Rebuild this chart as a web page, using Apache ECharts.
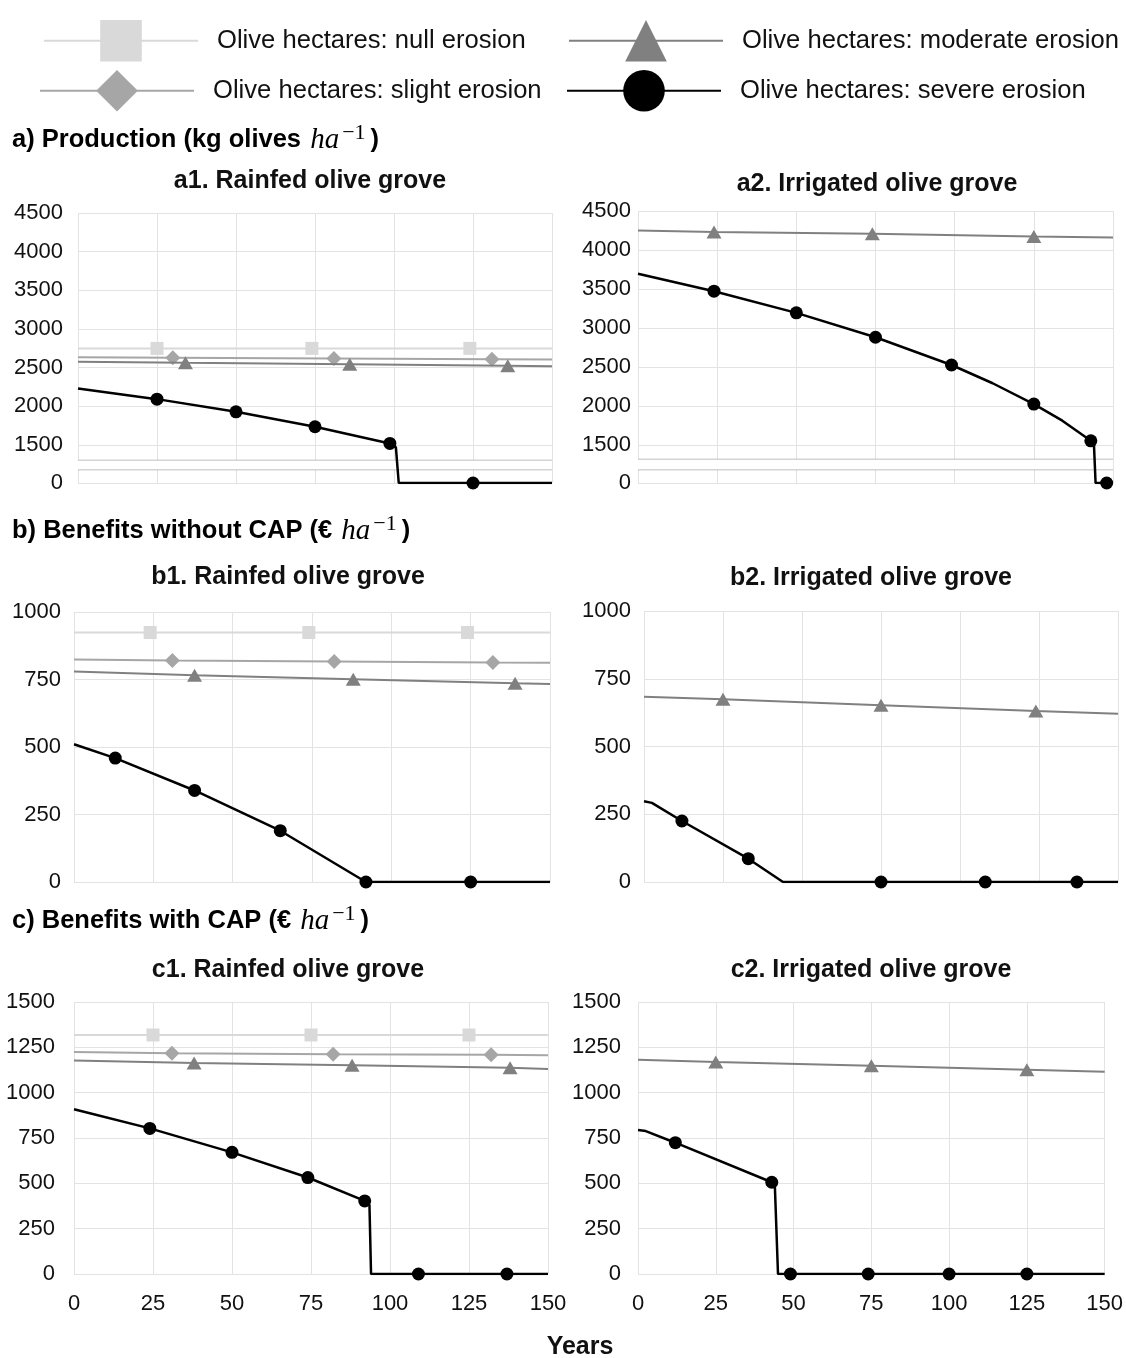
<!DOCTYPE html>
<html><head><meta charset="utf-8">
<script src="https://cdn.jsdelivr.net/npm/echarts@6/dist/echarts.min.js"></script>
<style>html,body{margin:0;padding:0;background:#fff}#c{width:1126px;height:1358px}</style>
</head><body><div id="c"></div>
<script>
// ---------- DATA ----------
const xTicks = [0, 25, 50, 75, 100, 125, 150];
const aTicks = [0, 1500, 2000, 2500, 3000, 3500, 4000, 4500];
const names = ['Olive hectares: null erosion','Olive hectares: slight erosion','Olive hectares: moderate erosion','Olive hectares: severe erosion'];

// a1 Production, rainfed
const a1_null_x = [0, 25, 74, 124, 150];
const a1_null_y = [2750, 2750, 2750, 2750, 2750];
const a1_null_m = [0, 1, 1, 1, 0];
const a1_slight_x = [0, 30, 81, 131, 150];
const a1_slight_y = [2636, 2630, 2620, 2610, 2606];
const a1_slight_m = [0, 1, 1, 1, 0];
const a1_mod_x = [0, 34, 86, 136, 150];
const a1_mod_y = [2576, 2563, 2544, 2525, 2520];
const a1_mod_m = [0, 1, 1, 1, 0];
const a1_sev_x = [0, 25, 50, 75, 98.7, 100.6, 101.5, 125, 150];
const a1_sev_y = [2232, 2094, 1930, 1737, 1521, 1470, 0, 0, 0];
const a1_sev_m = [0, 1, 1, 1, 1, 0, 0, 1, 0];

// a2 Production, irrigated
const a2_mod_x = [0, 24, 74, 125, 150];
const a2_mod_y = [4251, 4230, 4209, 4174, 4161];
const a2_mod_m = [0, 1, 1, 1, 0];
const a2_sev_x = [0, 24, 50, 75, 99, 112, 125, 134, 143, 144, 144.5, 148];
const a2_sev_y = [3694, 3471, 3193, 2880, 2524, 2290, 2023, 1810, 1551, 1490, 0, 0];
const a2_sev_m = [0, 1, 1, 1, 1, 0, 1, 0, 1, 0, 0, 1];

// b1 Benefits without CAP, rainfed
const b1_null_x = [0, 24, 74, 124, 150];
const b1_null_y = [924, 924, 924, 924, 924];
const b1_null_m = [0, 1, 1, 1, 0];
const b1_slight_x = [0, 31, 82, 132, 150];
const b1_slight_y = [824, 820, 817, 813, 812];
const b1_slight_m = [0, 1, 1, 1, 0];
const b1_mod_x = [0, 38, 88, 139, 150];
const b1_mod_y = [780, 766, 751, 736, 733];
const b1_mod_m = [0, 1, 1, 1, 0];
const b1_sev_x = [0, 13, 38, 65, 92, 125, 150];
const b1_sev_y = [510, 459, 339, 190, 0, 0, 0];
const b1_sev_m = [0, 1, 1, 1, 1, 1, 0];

// b2 Benefits without CAP, irrigated
const b2_mod_x = [0, 25, 75, 124, 150];
const b2_mod_y = [684, 674, 652, 631, 621];
const b2_mod_m = [0, 1, 1, 1, 0];
const b2_sev_x = [0, 2.5, 12, 33, 44, 75, 108, 137, 150];
const b2_sev_y = [298, 292, 225, 86, 0, 0, 0, 0, 0];
const b2_sev_m = [0, 0, 1, 1, 0, 1, 1, 1, 0];

// c1 Benefits with CAP, rainfed
const c1_null_x = [0, 25, 75, 125, 150];
const c1_null_y = [1318, 1318, 1318, 1318, 1318];
const c1_null_m = [0, 1, 1, 1, 0];
const c1_slight_x = [0, 31, 82, 132, 150];
const c1_slight_y = [1224, 1218, 1212, 1209, 1206];
const c1_slight_m = [0, 1, 1, 1, 0];
const c1_mod_x = [0, 38, 88, 138, 150];
const c1_mod_y = [1177, 1164, 1151, 1137, 1131];
const c1_mod_m = [0, 1, 1, 1, 0];
const c1_sev_x = [0, 24, 50, 74, 92, 93.5, 94, 109, 137, 150];
const c1_sev_y = [909, 803, 671, 532, 403, 381, 0, 0, 0, 0];
const c1_sev_m = [0, 1, 1, 1, 1, 0, 0, 1, 1, 0];

// c2 Benefits with CAP, irrigated
const c2_mod_x = [0, 25, 75, 125, 150];
const c2_mod_y = [1182, 1169, 1149, 1127, 1116];
const c2_mod_m = [0, 1, 1, 1, 0];
const c2_sev_x = [0, 2.5, 12, 43, 44, 45, 49, 74, 100, 125, 150];
const c2_sev_y = [794, 788, 724, 506, 482, 0, 0, 0, 0, 0, 0];
const c2_sev_m = [0, 0, 1, 1, 0, 0, 1, 1, 1, 1, 0];

// ---------- STYLE ----------
const STY = {
  null:   {name: names[0], color: '#d9d9d9', symbol: 'rect', size: 13, lw: 2, z: 2},
  slight: {name: names[1], color: '#a6a6a6', symbol: 'diamond', size: [15, 15], lw: 2, z: 3},
  mod:    {name: names[2], color: '#808080', symbol: 'triangle', size: [15, 13], lw: 2, z: 4},
  sev:    {name: names[3], color: '#000000', symbol: 'circle', size: 13, lw: 2.5, z: 5}
};
const FONT = '"Liberation Sans", Arial, sans-serif';

function mk(key, xs, ys, ms, gi) {
  const s = STY[key];
  return {
    type: 'line', name: s.name, xAxisIndex: gi, yAxisIndex: gi,
    data: xs.map((x, i) => ms[i] ? {value: [x, ys[i]]} : {value: [x, ys[i]], symbol: 'none'}),
    symbol: s.symbol, symbolSize: s.size, showSymbol: true,
    lineStyle: {color: s.color, width: s.lw},
    itemStyle: {color: s.color},
    z: s.z, animation: false, silent: true, clip: true
  };
}

const grids = [
  {left: 78, top: 213, width: 474, height: 270},
  {left: 638, top: 211, width: 475, height: 272},
  {left: 74, top: 612, width: 476, height: 270},
  {left: 644, top: 611, width: 474, height: 271},
  {left: 74, top: 1002, width: 474, height: 272},
  {left: 638, top: 1002, width: 475, height: 272}
];

const gridLine = {show: true, lineStyle: {color: '#e3e3e3', width: 1}};
const plain = function (v) { return String(v); };
const xAxes = grids.map((g, i) => ({
  type: 'value', gridIndex: i, min: 0, max: 150, interval: 25,
  axisLine: {show: false}, axisTick: {show: false}, splitLine: gridLine,
  axisLabel: {show: i >= 4, fontSize: 22, color: '#111', fontFamily: FONT, margin: 19, formatter: plain}
}));

const yLabelMargins = [15, 7, 13, 13, 19, 17];
function yAxis(i, max, interval) {
  return {
    type: 'value', gridIndex: i, min: 0, max: max, interval: interval,
    axisLine: {show: false}, axisTick: {show: false}, splitLine: gridLine,
    axisLabel: {fontSize: 22, color: '#111', fontFamily: FONT, margin: yLabelMargins[i], formatter: plain}
  };
}
function brokenYAxis(i) {
  const ax = yAxis(i, 4500, 500);
  ax.breaks = [{start: 180, end: 1310, gap: 120}];
  ax.breakArea = {
    show: true, zigzagAmplitude: 0, zigzagZ: 1, expandOnClick: false,
    itemStyle: {color: '#ffffff', borderColor: '#a8a8a8', borderWidth: 1.5, borderType: 'solid', opacity: 1}
  };
  ax.axisLabel.customValues = aTicks;
  ax.axisTick = {show: false, customValues: aTicks};
  ax.axisLabel.formatter = function (v) { return aTicks.indexOf(v) >= 0 ? String(v) : ''; };
  return ax;
}
const yAxes = [
  brokenYAxis(0),
  brokenYAxis(1),
  yAxis(2, 1000, 250),
  yAxis(3, 1000, 250),
  yAxis(4, 1500, 250),
  yAxis(5, 1500, 250)
];

const series = [
  mk('null', a1_null_x, a1_null_y, a1_null_m, 0),
  mk('slight', a1_slight_x, a1_slight_y, a1_slight_m, 0),
  mk('mod', a1_mod_x, a1_mod_y, a1_mod_m, 0),
  mk('sev', a1_sev_x, a1_sev_y, a1_sev_m, 0),
  mk('mod', a2_mod_x, a2_mod_y, a2_mod_m, 1),
  mk('sev', a2_sev_x, a2_sev_y, a2_sev_m, 1),
  mk('null', b1_null_x, b1_null_y, b1_null_m, 2),
  mk('slight', b1_slight_x, b1_slight_y, b1_slight_m, 2),
  mk('mod', b1_mod_x, b1_mod_y, b1_mod_m, 2),
  mk('sev', b1_sev_x, b1_sev_y, b1_sev_m, 2),
  mk('mod', b2_mod_x, b2_mod_y, b2_mod_m, 3),
  mk('sev', b2_sev_x, b2_sev_y, b2_sev_m, 3),
  mk('null', c1_null_x, c1_null_y, c1_null_m, 4),
  mk('slight', c1_slight_x, c1_slight_y, c1_slight_m, 4),
  mk('mod', c1_mod_x, c1_mod_y, c1_mod_m, 4),
  mk('sev', c1_sev_x, c1_sev_y, c1_sev_m, 4),
  mk('mod', c2_mod_x, c2_mod_y, c2_mod_m, 5),
  mk('sev', c2_sev_x, c2_sev_y, c2_sev_m, 5)
];

function legend(nm, left, top) {
  return {
    data: [nm], left: left, top: top, padding: 0, orient: 'horizontal',
    itemWidth: 154, itemHeight: 52, selectedMode: false,
    textStyle: {fontSize: 25.6, color: '#111', fontFamily: FONT, padding: [0, 0, 0, 14]}
  };
}
const legends = [
  legend(names[0], 43, 20),
  legend(names[2], 568, 20),
  legend(names[1], 39, 70),
  legend(names[3], 566, 70)
];

const rich = {
  b: {fontSize: 25.5, fontWeight: 'bold', fontFamily: FONT, fill: '#000', lineHeight: 36},
  i: {fontSize: 29, fontStyle: 'italic', fontFamily: '"Liberation Serif", serif', fill: '#000', lineHeight: 36, padding: [0, 0, 0, 2]},
  s: {fontSize: 22, fontFamily: '"Liberation Serif", serif', fill: '#000', lineHeight: 22, verticalAlign: 'top', padding: [0, 5, 0, 3]}
};
function head(txt, y) {
  return {type: 'text', x: 12, y: y, silent: true,
    style: {text: txt, rich: rich, verticalAlign: 'middle', align: 'left'}};
}
function sub(txt, x, y) {
  return {type: 'text', x: x, y: y, silent: true,
    style: {text: txt, fill: '#111', font: 'bold 25px ' + FONT, align: 'center', verticalAlign: 'middle'}};
}
const graphics = [
  head('{b|a) Production (kg olives }{i|ha}{s|\u22121}{b|)}', 140),
  head('{b|b) Benefits without CAP (\u20ac }{i|ha}{s|\u22121}{b|)}', 531),
  head('{b|c) Benefits with CAP (\u20ac }{i|ha}{s|\u22121}{b|)}', 921),
  sub('a1. Rainfed olive grove', 310, 181),
  sub('a2. Irrigated olive grove', 877, 184),
  sub('b1. Rainfed olive grove', 288, 577),
  sub('b2. Irrigated olive grove', 871, 578),
  sub('c1. Rainfed olive grove', 288, 970),
  sub('c2. Irrigated olive grove', 871, 970),
  sub('Years', 580, 1347)
];

const chart = echarts.init(document.getElementById('c'), null, {renderer: 'canvas'});
chart.setOption({
  backgroundColor: '#ffffff',
  animation: false,
  legend: legends,
  grid: grids,
  xAxis: xAxes,
  yAxis: yAxes,
  series: series,
  graphic: graphics
});
</script></body></html>
